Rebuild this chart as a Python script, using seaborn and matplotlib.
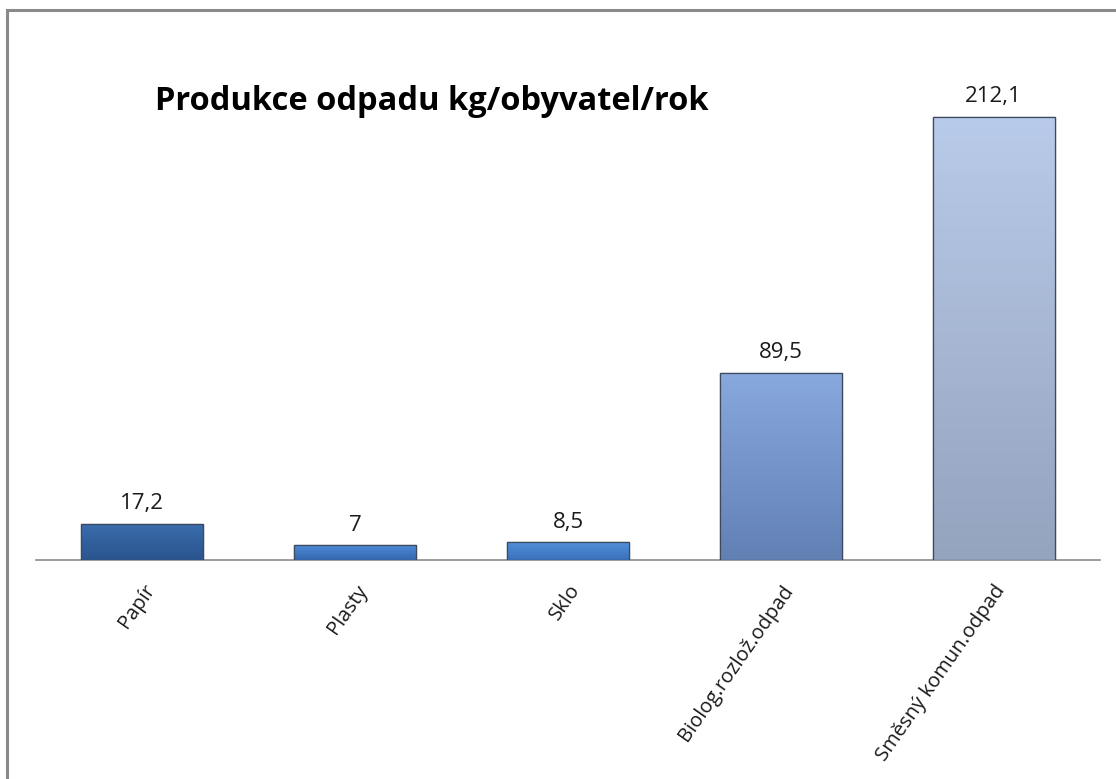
import matplotlib
matplotlib.use("Agg")
import matplotlib.pyplot as plt
import matplotlib.colors as mcolors
import seaborn as sns
import pandas as pd
import numpy as np
from matplotlib.patches import Rectangle

categories = ["Papír", "Plasty", "Sklo", "Biolog.rozlož.odpad", "Směsný komun.odpad"]
values = [17.2, 7, 8.5, 89.5, 212.1]
value_labels = ["17,2", "7", "8,5", "89,5", "212,1"]
colors = ["#2F5E9C", "#3E78C6", "#4581CD", "#7698CD", "#AABAD7"]
top_colors = ["#3A6CAC", "#4E8AD6", "#5290DA", "#88A9DE", "#B9CBEA"]
bottom_colors = ["#2A548E", "#3468B0", "#3A70BC", "#6280B4", "#94A3BE"]
title = "Produkce odpadu kg/obyvatel/rok"

sns.set_theme(style="white")
plt.rcParams["font.family"] = ["Open Sans", "DejaVu Sans"]

df = pd.DataFrame({"cat": categories, "val": values})

fig = plt.figure(figsize=(11.16, 7.79), dpi=100)
ax = fig.add_axes([36/1116, (779-560)/779, (1100-36)/1116, (560-79.5)/779])

sns.barplot(data=df, x="cat", y="val", hue="cat", palette=colors, dodge=False,
            legend=False, width=0.573, ax=ax, saturation=1,
            edgecolor="#3d4a5e", linewidth=0.9)

ax.set_ylim(0, 230)
ax.set_xlim(-0.5, len(categories) - 0.5)

# vertical gradient inside each bar, clipped to the bar patch
for patch, tc, bc in zip(ax.patches, top_colors, bottom_colors):
    x0, y0 = patch.get_x(), patch.get_y()
    w, h = patch.get_width(), patch.get_height()
    cmap = mcolors.LinearSegmentedColormap.from_list("g", [bc, tc])
    grad = np.linspace(0, 1, 256).reshape(-1, 1)
    im = ax.imshow(grad, cmap=cmap, origin="lower", aspect="auto",
                   extent=[x0, x0 + w, y0, y0 + h], zorder=patch.get_zorder() + 0.1)
    im.set_clip_path(patch)
    edge = Rectangle((x0, y0), w, h, fill=False, edgecolor="#3d4a5e",
                     linewidth=0.9, zorder=patch.get_zorder() + 0.2)
    ax.add_patch(edge)

ax.set_xlim(-0.5, len(categories) - 0.5)
ax.set_ylim(0, 230)
for s in ["top", "right", "left"]:
    ax.spines[s].set_visible(False)
ax.spines["bottom"].set_color("#8c8c8c")
ax.spines["bottom"].set_linewidth(1.2)
ax.spines["bottom"].set_zorder(0.5)
ax.set_yticks([])
ax.set_xlabel("")
ax.set_ylabel("")
ax.tick_params(axis="x", length=0, pad=15)
ax.set_xticks(range(len(categories)))
ax.set_xticklabels(categories, rotation=55, ha="right", rotation_mode="anchor",
                   fontsize=14.5, color="#1a1a1a")

for i, (v, lab) in enumerate(zip(values, value_labels)):
    ax.annotate(lab, (i, v), xytext=(0, 7), textcoords="offset points",
                ha="center", va="bottom", fontsize=16, color="#1a1a1a")

fig.text(155/1116, 1 - 102/779, title, fontsize=23.5, fontweight="bold",
         ha="left", va="center", color="black")

fig.patches.append(Rectangle((7/1116, -0.1), 1.2, 1 - 10/779 + 0.1,
                             transform=fig.transFigure, fill=False,
                             edgecolor="#8a8a8a", linewidth=2.2))

fig.savefig("out.png", dpi=100)
